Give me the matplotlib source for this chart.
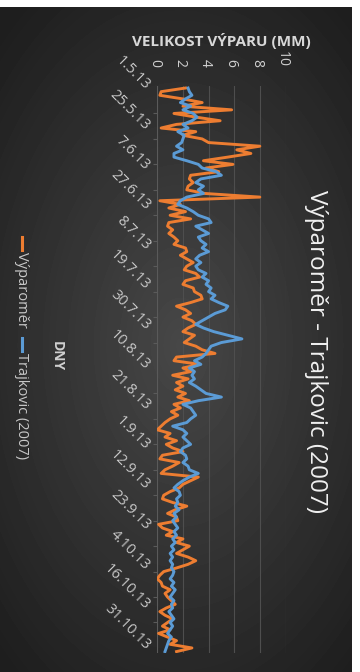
import numpy as np
import matplotlib
matplotlib.use("Agg")
import matplotlib.pyplot as plt
import matplotlib.transforms as mtransforms
from matplotlib.lines import Line2D

plt.rcParams['font.family'] = ['Open Sans', 'DejaVu Sans']

# data (one value per category / day)
vyparomer = [2.2, 0.3, 0.2, 2.0, 3.5, 2.0, 5.8, 1.3, 3.0, 4.9,
             1.5, 0.3, 3.0, 2.0, 3.5, 4.0, 8.0, 6.2, 7.3, 5.5,
             3.6, 5.9, 3.8, 4.8, 2.6, 2.5, 2.8, 2.4, 2.3, 3.7,
             8.0, 0.2, 1.8, 0.9, 2.2, 1.0, 2.6, 0.9, 0.8, 1.2,
             0.9, 1.3, 1.6, 1.3, 2.2, 2.3, 1.8, 2.3, 2.8, 2.3,
             2.1, 3.0, 3.3, 2.2, 2.0, 2.8, 2.9, 3.4, 3.5, 2.6,
             1.5, 2.2, 2.6, 2.0, 2.7, 3.0, 2.4, 2.0, 2.9, 2.5,
             2.1, 3.0, 3.5, 4.5, 1.5, 1.3, 3.3, 2.0, 2.6, 1.2,
             2.4, 1.5, 2.0, 1.4, 2.2, 1.6, 2.5, 1.3, 1.8, 1.1,
             1.6, 1.0, 0.6, 0.3, 0.0, 1.0, 0.6, 1.5, 0.7, 1.2,
             2.0, 0.4, 0.2, 1.7, 1.2, 0.6, 0.3, 3.2, 2.6, 2.0,
             1.7, 1.0, 0.5, 0.4, 1.2, 2.3, 1.4, 0.8, 1.5, 1.6,
             0.1, 0.4, 1.2, 0.7, 2.0, 1.5, 2.5, 2.0, 1.5, 2.4,
             3.0, 2.4, 1.5, 0.5, 0.2, 0.0, 0.3, 0.4, 1.0, 0.6,
             0.8, 1.1, 1.4, 0.7, 0.2, 0.6, 1.2, 0.8, 0.4, 1.0,
             0.1, 0.8, 1.5, 1.0, 2.7, 1.5]

trajkovic = [2.4, 2.5, 2.7, 2.2, 1.8, 2.6, 2.0, 2.8, 3.1, 2.7,
             2.0, 2.4, 1.6, 2.1, 2.0, 1.9, 1.5, 2.0, 1.3, 1.3,
             2.3, 3.2, 3.5, 4.6, 5.0, 3.4, 3.0, 3.6, 3.2, 3.6,
             2.3, 1.8, 1.6, 2.3, 2.8, 3.2, 4.0, 4.2, 3.0, 3.5,
             4.0, 3.2, 3.4, 3.8, 3.5, 4.0, 3.3, 3.0, 3.4, 3.0,
             3.2, 3.8, 3.5, 4.0, 3.8, 4.2, 4.0, 4.5, 4.2, 4.8,
             5.5, 5.3, 4.5, 4.0, 3.5, 3.0, 3.6, 4.4, 5.5, 6.6,
             5.0, 4.2, 4.0, 3.8, 3.5, 2.9, 3.4, 2.5, 2.9, 2.7,
             2.9, 2.5, 3.0, 3.4, 3.8, 5.0, 3.2, 2.0, 2.6, 2.8,
             3.0, 2.6, 2.3, 1.2, 2.0, 2.3, 2.0, 2.3, 2.6, 2.0,
             1.8, 2.2, 2.3, 2.0, 2.4, 2.5, 3.2, 2.5, 2.0, 1.6,
             1.3, 1.7, 1.8, 1.5, 1.6, 1.4, 1.7, 1.3, 1.5, 1.2,
             1.4, 1.6, 1.3, 1.5, 1.2, 1.4, 1.1, 1.3, 1.0, 1.2,
             1.0, 1.2, 1.1, 1.3, 1.2, 1.0, 1.3, 1.1, 1.4, 1.2,
             1.0, 1.3, 1.1, 1.2, 0.9, 1.1, 1.3, 1.0, 1.2, 1.0,
             0.8, 1.1, 0.9, 0.8, 0.7, 0.6]

date_labels = ['1.5.13', '25.5.13', '7.6.13', '27.6.13', '8.7.13', '19.7.13',
               '30.7.13', '10.8.13', '21.8.13', '1.9.13', '12.9.13', '23.9.13',
               '4.10.13', '16.10.13', '31.10.13']
label_step = 11
value_ticks = [0, 2, 4, 6, 8, 10]

W, H = 360, 672
fig = plt.figure(figsize=(W / 100, H / 100), dpi=100)
fig.patch.set_facecolor('white')


def fx(x):
    return x / W


def fy(y):
    return 1 - y / H


# dark background with radial shading
bg = fig.add_axes([0, 0, 1, 1])
bg.set_xlim(0, W)
bg.set_ylim(H, 0)
bg.axis('off')
gx, gy = np.meshgrid(np.arange(0, 352), np.arange(7, H))
r = np.sqrt(((gx - 180) / 260.0) ** 2 + ((gy - 345) / 420.0) ** 2)
shade = np.clip(0.28 - 0.16 * r, 0.12, 0.3)
bg.imshow(shade, cmap='gray', vmin=0, vmax=1, extent=(0, 352, H, 7),
          aspect='auto', interpolation='bilinear')

# plot area
n = len(vyparomer)
top_px, bot_px = 86.2, 653.4
ax = fig.add_axes([fx(157.3), fy(bot_px), (285.5 - 157.3) / W, (bot_px - top_px) / H])
ax.patch.set_alpha(0)
idx = np.arange(n)
ax.plot(vyparomer, idx, color='#ED7D31', lw=2.1, solid_joinstyle='round')
ax.plot(trajkovic, idx, color='#5B9BD5', lw=2.1, solid_joinstyle='round')
ax.set_xlim(0, 10)
ax.set_ylim(n - 0.5, -0.5)

for s in ax.spines.values():
    s.set_visible(False)
ax.axvline(0, color='#5a5a5a', lw=0.8, zorder=0)
for v in value_ticks[1:]:
    ax.axvline(v, color='#4e4e4e', lw=0.8, zorder=0)

# value axis on top, labels turned like the rest of the chart
ax.xaxis.tick_top()
ax.set_xticks(value_ticks)
ax.set_xticklabels([str(v) for v in value_ticks])
ax.tick_params(axis='x', length=0, pad=14, colors='#d0d0d0', labelsize=10)
shift = mtransforms.ScaledTranslation(-3 / 100, 0, fig.dpi_scale_trans)
for lab in ax.get_xticklabels():
    lab.set_rotation(-90)
    lab.set_rotation_mode('anchor')
    lab.set_ha('right')
    lab.set_va('center')
    lab.set_transform(lab.get_transform() + shift)

# category axis
ax.set_yticks(np.arange(0, n, label_step)[:len(date_labels)])
ax.set_yticklabels(date_labels)
ax.set_yticks(np.arange(0, n, 7), minor=True)
ax.tick_params(axis='y', which='major', length=0, pad=7, colors='#c8c8c8', labelsize=10.5)
ax.tick_params(axis='y', which='minor', length=3, color='#5a5a5a', width=0.8)
for lab in ax.get_yticklabels():
    lab.set_rotation(-45)
    lab.set_rotation_mode('anchor')
    lab.set_ha('right')
    lab.set_va('center')

# texts
fig.text(fx(221), fy(41), 'VELIKOST VÝPARU (MM)', color='#d8d8d8', fontsize=11,
         fontweight='bold', ha='center', va='center')
fig.text(fx(316), fy(352), 'Výparoměr - Trajkovic (2007)', color='#f0f0f0', fontsize=17.5,
         rotation=-90, ha='center', va='center')
fig.text(fx(57), fy(356), 'DNY', color='#d0d0d0', fontsize=10, fontweight='bold',
         rotation=-90, ha='center', va='center')

# legend
fig.add_artist(Line2D([fx(22), fx(22)], [fy(237), fy(250)], color='#ED7D31', lw=2.2))
fig.text(fx(22), fy(252), 'Výparoměr', color='#c8c8c8', fontsize=10.5, rotation=-90,
         rotation_mode='anchor', ha='left', va='center')
fig.add_artist(Line2D([fx(22), fx(22)], [fy(338), fy(351)], color='#5B9BD5', lw=2.2))
fig.text(fx(22), fy(353), 'Trajkovic (2007)', color='#c8c8c8', fontsize=10.5, rotation=-90,
         rotation_mode='anchor', ha='left', va='center')

fig.savefig('out.png', dpi=100, facecolor=fig.get_facecolor())
